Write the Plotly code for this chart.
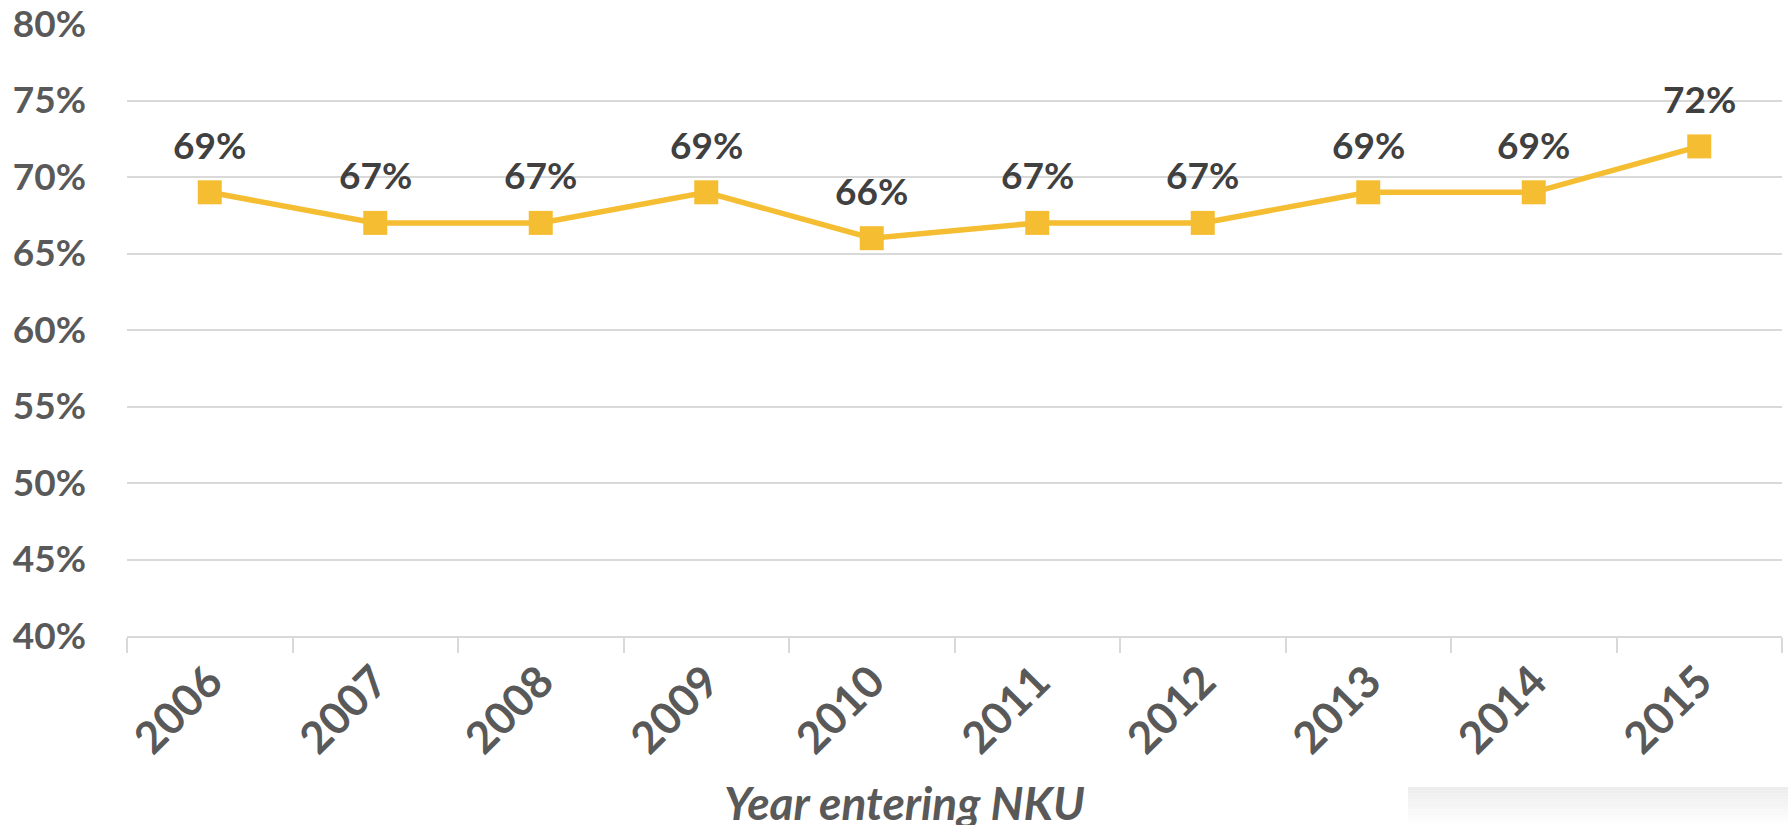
import plotly.graph_objects as go

years = ["2006", "2007", "2008", "2009", "2010", "2011", "2012", "2013", "2014", "2015"]
rates = [0.69, 0.67, 0.67, 0.69, 0.66, 0.67, 0.67, 0.69, 0.69, 0.72]
y_ticks = [0.40, 0.45, 0.50, 0.55, 0.60, 0.65, 0.70, 0.75, 0.80]
x_title = "Year entering NKU"

LINE = "#F5BD31"
FONT = "Lato"

fig = go.Figure()
fig.add_trace(go.Scatter(
    x=years, y=rates, mode="lines+markers",
    line=dict(color=LINE, width=5.5),
    marker=dict(symbol="square", size=24, color=LINE),
    hoverinfo="skip", showlegend=False,
))

for i, v in enumerate(rates):
    fig.add_annotation(x=i, y=v, text=f"{round(v*100)}%", showarrow=False,
                       yshift=48, font=dict(family=FONT, size=37, color="#404040", weight="bold"))

fig.add_annotation(xref="paper", yref="paper", x=0.47, y=0, yshift=-166, yanchor="middle",
                   text=f"<i>{x_title}</i>", showarrow=False,
                   font=dict(family=FONT, size=46, color="#595959", weight="bold"))

# light grey gradient block at bottom-right
n = 12
for k in range(n):
    g = 236 + int((255 - 236) * k / n)
    fig.add_shape(type="rect", xref="paper", yref="paper",
                  x0=(1408 - 127) / (1782 - 127), x1=(1788 - 127) / (1782 - 127),
                  y0=-(787 - 636 + (k + 1) * 38 / n) / (636 - 24),
                  y1=-(787 - 636 + k * 38 / n) / (636 - 24),
                  fillcolor=f"rgb({g},{g+1},{g})", line=dict(width=0), layer="below")

fig.update_layout(
    width=1788, height=825,
    margin=dict(l=127, r=6, t=24, b=189),
    plot_bgcolor="white", paper_bgcolor="white",
    font=dict(family=FONT, color="#595959"),
    xaxis=dict(type="category", showgrid=False, showline=True, linecolor="#d9d9d9", linewidth=2,
               ticks="outside", ticklen=15, tickcolor="#d9d9d9", tickwidth=2, tickson="boundaries",
               tickangle=-45, ticklabelstandoff=0, automargin=False,
               tickfont=dict(family=FONT, size=44, color="#595959", weight="bold"),
               range=[-0.5, 9.5], zeroline=False),
    yaxis=dict(range=[0.40, 0.80], tickvals=y_ticks, tickformat=".0%", showgrid=True,
               gridcolor="#d9d9d9", gridwidth=2, zeroline=False, showline=False,
               ticks="", ticklabelstandoff=40, ticklabeloverflow="allow", automargin=False,
               tickfont=dict(family=FONT, size=37, color="#595959", weight="bold")),
)

fig.write_html("out.html")
